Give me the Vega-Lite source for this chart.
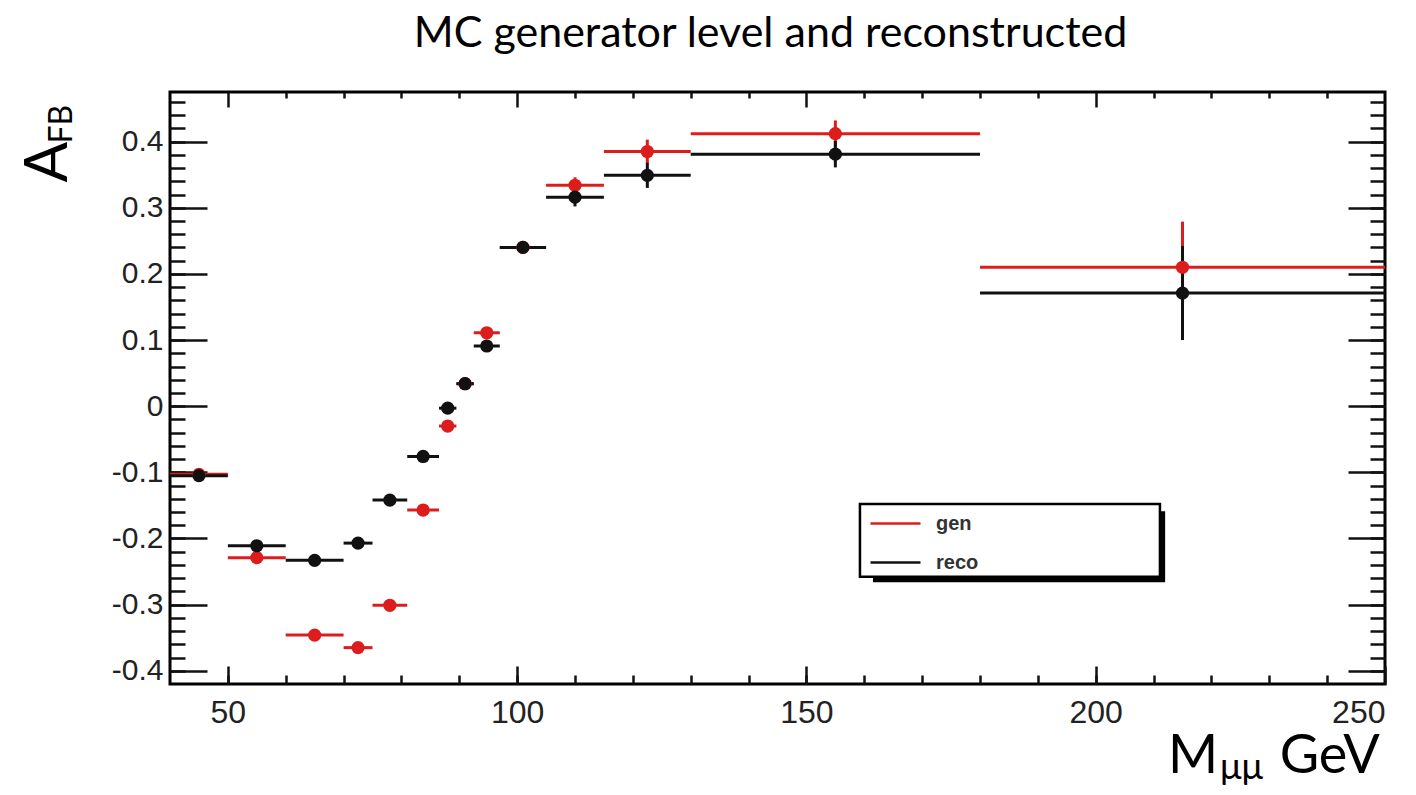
{
  "$schema": "https://vega.github.io/schema/vega-lite/v6.json",
  "width": 1215,
  "height": 592,
  "autosize": {"type": "none"},
  "padding": {"left": 170, "top": 92, "right": 31, "bottom": 111},
  "background": "white",
  "title": {"text": "MC generator level and reconstructed", "font": "Lato", "fontSize": 43, "fontWeight": "normal", "color": "#000", "anchor": "middle", "frame": "group", "baseline": "alphabetic", "offset": 1, "dx": -7},
  "config": {
    "view": {"stroke": "#000", "strokeWidth": 3},
    "axis": {"grid": false, "domain": false, "tickColor": "#111", "tickWidth": 2.5, "labelFont": "Liberation Sans", "labelColor": "#222"}
  },
  "datasets": {
    "afb": [
      {"series": "gen", "m": 45, "mlo": 40, "mhi": 50, "afb": -0.103, "lo": -0.109, "hi": -0.097},
      {"series": "gen", "m": 55, "mlo": 50, "mhi": 60, "afb": -0.229, "lo": -0.235, "hi": -0.223},
      {"series": "gen", "m": 65, "mlo": 60, "mhi": 70, "afb": -0.346, "lo": -0.352, "hi": -0.340},
      {"series": "gen", "m": 72.5, "mlo": 70, "mhi": 75, "afb": -0.365, "lo": -0.372, "hi": -0.358},
      {"series": "gen", "m": 78, "mlo": 75, "mhi": 81, "afb": -0.301, "lo": -0.307, "hi": -0.295},
      {"series": "gen", "m": 83.75, "mlo": 81, "mhi": 86.5, "afb": -0.157, "lo": -0.162, "hi": -0.152},
      {"series": "gen", "m": 88, "mlo": 86.5, "mhi": 89.5, "afb": -0.030, "lo": -0.034, "hi": -0.026},
      {"series": "gen", "m": 91, "mlo": 89.5, "mhi": 92.5, "afb": 0.034, "lo": 0.030, "hi": 0.038},
      {"series": "gen", "m": 94.75, "mlo": 92.5, "mhi": 97, "afb": 0.111, "lo": 0.106, "hi": 0.116},
      {"series": "gen", "m": 101, "mlo": 97, "mhi": 105, "afb": 0.240, "lo": 0.234, "hi": 0.246},
      {"series": "gen", "m": 110, "mlo": 105, "mhi": 115, "afb": 0.334, "lo": 0.322, "hi": 0.346},
      {"series": "gen", "m": 122.5, "mlo": 115, "mhi": 130, "afb": 0.385, "lo": 0.367, "hi": 0.403},
      {"series": "gen", "m": 155, "mlo": 130, "mhi": 180, "afb": 0.412, "lo": 0.392, "hi": 0.432},
      {"series": "gen", "m": 215, "mlo": 180, "mhi": 250, "afb": 0.210, "lo": 0.142, "hi": 0.279},
      {"series": "reco", "m": 45, "mlo": 40, "mhi": 50, "afb": -0.105, "lo": -0.111, "hi": -0.099},
      {"series": "reco", "m": 55, "mlo": 50, "mhi": 60, "afb": -0.211, "lo": -0.217, "hi": -0.205},
      {"series": "reco", "m": 65, "mlo": 60, "mhi": 70, "afb": -0.233, "lo": -0.239, "hi": -0.227},
      {"series": "reco", "m": 72.5, "mlo": 70, "mhi": 75, "afb": -0.207, "lo": -0.214, "hi": -0.200},
      {"series": "reco", "m": 78, "mlo": 75, "mhi": 81, "afb": -0.142, "lo": -0.148, "hi": -0.136},
      {"series": "reco", "m": 83.75, "mlo": 81, "mhi": 86.5, "afb": -0.076, "lo": -0.081, "hi": -0.071},
      {"series": "reco", "m": 88, "mlo": 86.5, "mhi": 89.5, "afb": -0.003, "lo": -0.007, "hi": 0.001},
      {"series": "reco", "m": 91, "mlo": 89.5, "mhi": 92.5, "afb": 0.034, "lo": 0.030, "hi": 0.038},
      {"series": "reco", "m": 94.75, "mlo": 92.5, "mhi": 97, "afb": 0.091, "lo": 0.086, "hi": 0.096},
      {"series": "reco", "m": 101, "mlo": 97, "mhi": 105, "afb": 0.240, "lo": 0.234, "hi": 0.246},
      {"series": "reco", "m": 110, "mlo": 105, "mhi": 115, "afb": 0.316, "lo": 0.302, "hi": 0.330},
      {"series": "reco", "m": 122.5, "mlo": 115, "mhi": 130, "afb": 0.349, "lo": 0.330, "hi": 0.368},
      {"series": "reco", "m": 155, "mlo": 130, "mhi": 180, "afb": 0.381, "lo": 0.361, "hi": 0.401},
      {"series": "reco", "m": 215, "mlo": 180, "mhi": 250, "afb": 0.171, "lo": 0.100, "hi": 0.242}
    ]
  },
  "layer": [
    {
      "data": {"values": [{}]},
      "mark": {"type": "rect", "fill": "#000"},
      "encoding": {
        "x": {"datum": 161.5, "type": "quantitative", "axis": null, "scale": {"domain": [40, 250], "nice": false, "zero": false}},
        "x2": {"datum": 212.0},
        "y": {"datum": -0.159, "type": "quantitative", "axis": null, "scale": {"domain": [-0.42, 0.475], "nice": false, "zero": false}},
        "y2": {"datum": -0.266}
      }
    },
    {
      "data": {"values": [{}]},
      "mark": {"type": "rect", "fill": "#fff", "stroke": "#000", "strokeWidth": 2.5},
      "encoding": {
        "x": {"datum": 159.25, "type": "quantitative", "axis": null},
        "x2": {"datum": 211.1},
        "y": {"datum": -0.148, "type": "quantitative", "axis": null},
        "y2": {"datum": -0.258}
      }
    },
    {
      "data": {"name": "afb"},
      "mark": {"type": "rule", "strokeWidth": 3},
      "encoding": {
        "x": {"field": "mlo", "type": "quantitative", "scale": {"domain": [40, 250], "nice": false, "zero": false},
              "axis": {"orient": "bottom", "title": null, "values": [50, 100, 150, 200, 250], "tickSize": -18, "labelFontSize": 32, "labelPadding": 31}},
        "x2": {"field": "mhi"},
        "y": {"field": "afb", "type": "quantitative", "scale": {"domain": [-0.42, 0.475], "nice": false, "zero": false},
              "axis": {"orient": "left", "title": null, "values": [-0.4, -0.3, -0.2, -0.1, 0, 0.1, 0.2, 0.3, 0.4], "labelExpr": "datum.value == 0 ? '0' : toString(round(datum.value * 10) / 10)", "tickSize": -37, "labelFontSize": 30, "labelPadding": 44}},
        "color": {"field": "series", "type": "nominal",
                  "scale": {"domain": ["gen", "reco"], "range": ["#dd1c1c", "#111111"]},
                  "legend": {"orient": "none", "legendX": 699, "legendY": 405, "title": null, "symbolType": "stroke", "symbolSize": 2500, "symbolStrokeWidth": 2.5, "labelFont": "Liberation Sans", "labelFontSize": 20, "labelFontWeight": "bold", "labelColor": "#333", "padding": 0, "rowPadding": 2, "labelOffset": 14}}
      }
    },
    {
      "data": {"name": "afb"},
      "mark": {"type": "rule", "strokeWidth": 3},
      "encoding": {
        "x": {"field": "m", "type": "quantitative", "scale": {"domain": [40, 250], "nice": false, "zero": false},
              "axis": {"orient": "bottom", "title": null, "labels": false, "values": [50, 60, 70, 80, 90, 100, 110, 120, 130, 140, 150, 160, 170, 180, 190, 200, 210, 220, 230, 240], "tickSize": -9}},
        "y": {"field": "lo", "type": "quantitative", "scale": {"domain": [-0.42, 0.475], "nice": false, "zero": false},
              "axis": {"orient": "left", "title": null, "labels": false, "values": [-0.4, -0.38, -0.36, -0.34, -0.32, -0.3, -0.28, -0.26, -0.24, -0.22, -0.2, -0.18, -0.16, -0.14, -0.12, -0.1, -0.08, -0.06, -0.04, -0.02, 0, 0.02, 0.04, 0.06, 0.08, 0.1, 0.12, 0.14, 0.16, 0.18, 0.2, 0.22, 0.24, 0.26, 0.28, 0.3, 0.32, 0.34, 0.36, 0.38, 0.4, 0.42, 0.44, 0.46], "tickSize": -15}},
        "y2": {"field": "hi"},
        "color": {"field": "series", "type": "nominal", "scale": {"domain": ["gen", "reco"], "range": ["#dd1c1c", "#111111"]}}
      }
    },
    {
      "data": {"name": "afb"},
      "transform": [{"filter": "datum.series === 'gen'"}],
      "mark": {"type": "circle", "size": 175, "opacity": 1},
      "encoding": {
        "x": {"field": "m", "type": "quantitative", "scale": {"domain": [40, 250], "nice": false, "zero": false},
              "axis": {"orient": "top", "title": null, "labels": false, "values": [50, 100, 150, 200], "tickSize": -15}},
        "y": {"field": "afb", "type": "quantitative", "scale": {"domain": [-0.42, 0.475], "nice": false, "zero": false},
              "axis": {"orient": "right", "title": null, "labels": false, "values": [-0.4, -0.3, -0.2, -0.1, 0, 0.1, 0.2, 0.3, 0.4], "tickSize": -37}},
        "color": {"field": "series", "type": "nominal", "scale": {"domain": ["gen", "reco"], "range": ["#dd1c1c", "#111111"]}}
      }
    },
    {
      "data": {"name": "afb"},
      "transform": [{"filter": "datum.series === 'reco'"}],
      "mark": {"type": "circle", "size": 175, "opacity": 1},
      "encoding": {
        "x": {"field": "m", "type": "quantitative", "scale": {"domain": [40, 250], "nice": false, "zero": false},
              "axis": {"orient": "top", "title": null, "labels": false, "values": [60, 70, 80, 90, 110, 120, 130, 140, 160, 170, 180, 190, 210, 220, 230, 240], "tickSize": -6}},
        "y": {"field": "afb", "type": "quantitative", "scale": {"domain": [-0.42, 0.475], "nice": false, "zero": false},
              "axis": {"orient": "right", "title": null, "labels": false, "values": [-0.4, -0.38, -0.36, -0.34, -0.32, -0.3, -0.28, -0.26, -0.24, -0.22, -0.2, -0.18, -0.16, -0.14, -0.12, -0.1, -0.08, -0.06, -0.04, -0.02, 0, 0.02, 0.04, 0.06, 0.08, 0.1, 0.12, 0.14, 0.16, 0.18, 0.2, 0.22, 0.24, 0.26, 0.28, 0.3, 0.32, 0.34, 0.36, 0.38, 0.4, 0.42, 0.44, 0.46], "tickSize": -15}},
        "color": {"field": "series", "type": "nominal", "scale": {"domain": ["gen", "reco"], "range": ["#dd1c1c", "#111111"]}}
      }
    },
    {
      "data": {"values": [{}]},
      "mark": {"type": "text", "text": "A", "font": "Lato", "fontSize": 60, "angle": 270, "align": "left", "baseline": "alphabetic", "color": "#000"},
      "encoding": {"x": {"datum": 22.2, "type": "quantitative", "axis": null}, "y": {"datum": 0.338, "type": "quantitative", "axis": null}}
    },
    {
      "data": {"values": [{}]},
      "mark": {"type": "text", "text": "FB", "font": "Lato", "fontSize": 32, "angle": 270, "align": "left", "baseline": "alphabetic", "color": "#000"},
      "encoding": {"x": {"datum": 23.1, "type": "quantitative", "axis": null}, "y": {"datum": 0.397, "type": "quantitative", "axis": null}}
    },
    {
      "data": {"values": [{}]},
      "mark": {"type": "text", "text": "M", "font": "Lato", "fontSize": 54, "align": "left", "baseline": "alphabetic", "color": "#000"},
      "encoding": {"x": {"datum": 212.5, "type": "quantitative", "axis": null}, "y": {"datum": -0.5547, "type": "quantitative", "axis": null}}
    },
    {
      "data": {"values": [{}]},
      "mark": {"type": "text", "text": "μμ", "font": "Lato", "fontSize": 36, "align": "left", "baseline": "alphabetic", "color": "#000"},
      "encoding": {"x": {"datum": 221.5, "type": "quantitative", "axis": null}, "y": {"datum": -0.5637, "type": "quantitative", "axis": null}}
    },
    {
      "data": {"values": [{}]},
      "mark": {"type": "text", "text": "GeV", "font": "Lato", "fontSize": 54, "align": "left", "baseline": "alphabetic", "color": "#000"},
      "encoding": {"x": {"datum": 231.8, "type": "quantitative", "axis": null}, "y": {"datum": -0.5547, "type": "quantitative", "axis": null}}
    }
  ],
  "resolve": {"axis": {"x": "independent", "y": "independent"}}
}
